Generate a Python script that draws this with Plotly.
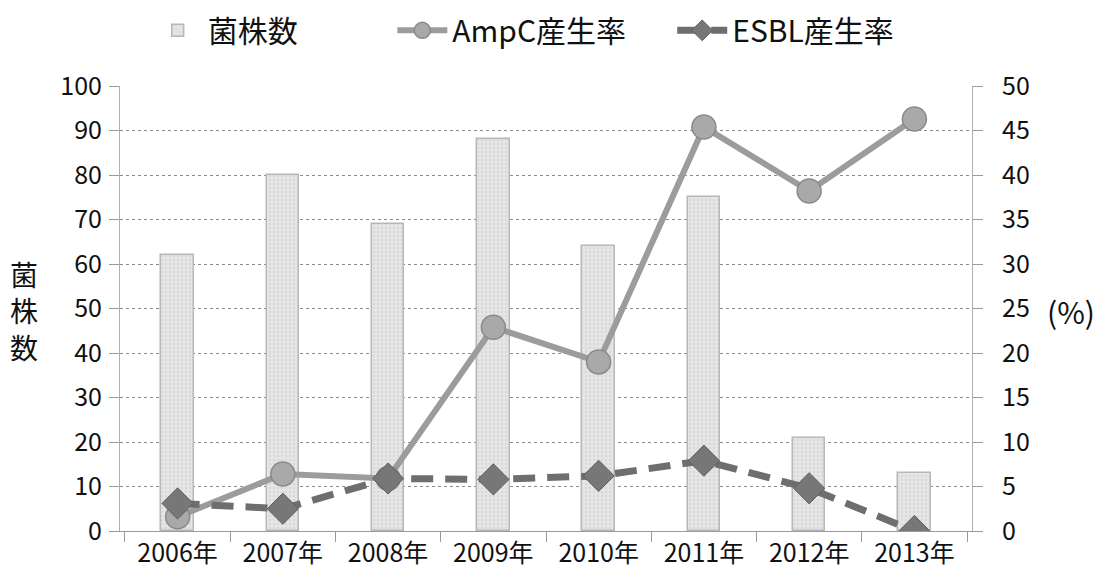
import plotly.graph_objects as go

years = ["2006年", "2007年", "2008年", "2009年", "2010年", "2011年", "2012年", "2013年"]
strains = [62, 80, 69, 88, 64, 75, 21, 13]
ampc = [1.6, 6.4, 5.9, 22.9, 19.0, 45.4, 38.2, 46.3]
esbl = [3.1, 2.5, 5.9, 5.8, 6.2, 7.9, 4.8, 0.0]

left_ticks = list(range(0, 101, 10))
right_ticks = list(range(0, 51, 5))

FONT = "Noto Sans CJK JP"

fig = go.Figure()
fig.add_trace(go.Bar(
    x=years, y=strains, name="菌株数", width=0.31,
    marker=dict(color="#dedede", line=dict(color="#b8b8b8", width=1.5),
                pattern=dict(shape=".", fgcolor="#cacaca", bgcolor="#e6e6e6", size=4, solidity=0.3)),
    yaxis="y", legend="legend",
))
fig.add_trace(go.Scatter(
    x=years, y=ampc, name="AmpC産生率", mode="lines+markers",
    line=dict(color="#9c9c9c", width=6),
    marker=dict(symbol="circle", size=24, color="#a9a9a9",
                line=dict(color="#8a8a8a", width=1.5)),
    yaxis="y2", legend="legend2",
))
fig.add_trace(go.Scatter(
    x=years, y=esbl, name="ESBL産生率", mode="lines+markers",
    line=dict(color="#6e6e6e", width=7, dash="22px,12px"),
    marker=dict(symbol="diamond", size=24, color="#777777",
                line=dict(color="#5e5e5e", width=1)),
    yaxis="y2", legend="legend3",
))

leg_common = dict(orientation="h", yref="container", xref="container", y=0.948,
                  yanchor="middle", xanchor="left", font=dict(size=30, family=FONT),
                  itemwidth=50, bgcolor="rgba(0,0,0,0)")

fig.update_layout(
    width=1102, height=583,
    margin=dict(l=120, r=130, t=86, b=52, autoexpand=False),
    plot_bgcolor="white", paper_bgcolor="white",
    font=dict(family=FONT, color="#111111", size=24),
    showlegend=True,
    legend=dict(x=0.134, **leg_common),
    legend2=dict(x=0.356, **leg_common),
    legend3=dict(x=0.610, **leg_common),
    bargap=0.0,
    xaxis=dict(
        showline=True, linecolor="#9a9a9a", linewidth=1,
        ticks="outside", ticklen=10, tickcolor="#9a9a9a",
        tickson="boundaries", showgrid=False,
        tickfont=dict(size=25, family=FONT),
    ),
    yaxis=dict(
        range=[0, 100], tickvals=left_ticks, showgrid=True,
        gridcolor="#8c8c8c", gridwidth=1, griddash="dot",
        showline=True, linecolor="#b0b0b0", linewidth=1,
        ticks="outside", ticklen=10, tickcolor="#9a9a9a",
        tickfont=dict(size=25, family=FONT), ticklabelstandoff=2,
        zeroline=False,
    ),
    yaxis2=dict(
        range=[0, 50], tickvals=right_ticks, overlaying="y", side="right",
        showgrid=False, showline=True, linecolor="#b0b0b0", linewidth=1,
        ticks="outside", ticklen=10, tickcolor="#9a9a9a",
        tickfont=dict(size=25, family=FONT), ticklabelstandoff=14,
        zeroline=False,
    ),
    annotations=[
        dict(text="菌<br>株<br>数", xref="paper", yref="paper", x=-0.113, y=0.495,
             xanchor="center", yanchor="middle", showarrow=False,
             font=dict(size=28, family=FONT), align="center"),
        dict(text="(%)", xref="paper", yref="paper", x=1.116, y=0.495,
             xanchor="center", yanchor="middle", showarrow=False,
             font=dict(size=30, family=FONT)),
    ],
)

fig.write_html("out.html")
